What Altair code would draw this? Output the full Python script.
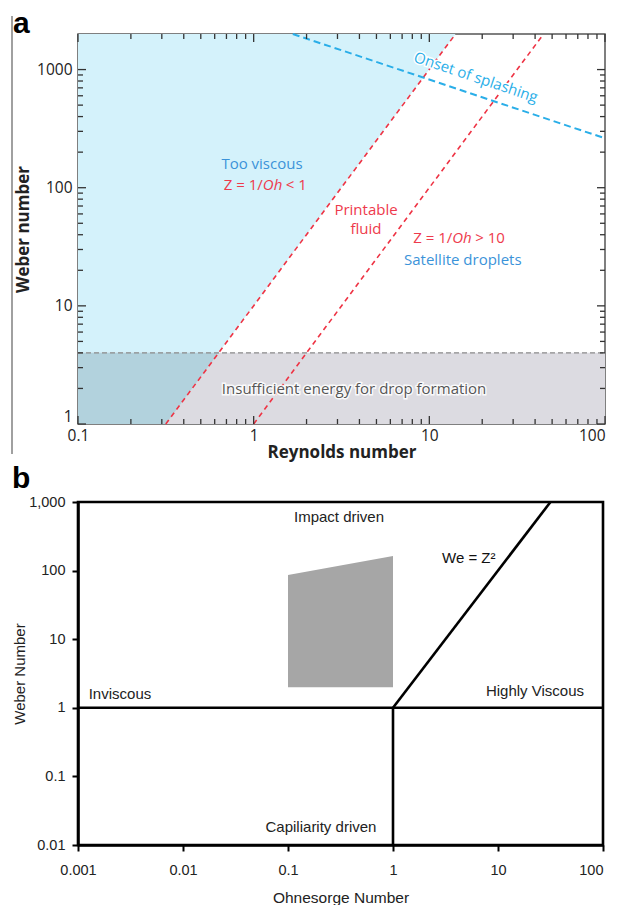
import altair as alt
import pandas as pd

# ---------------- panel a : Weber vs Reynolds ----------------
RE_MAJOR = [0.1, 1, 10, 100]
RE_MINOR = [0.2, 0.3, 0.4, 0.5, 0.6, 0.7, 0.8, 0.9,
            2, 3, 4, 5, 6, 7, 8, 9,
            20, 30, 40, 50, 60, 70, 80, 90]
WE_A_MAJOR = [1, 10, 100, 1000]
WE_A_MINOR = [2, 3, 4, 5, 6, 7, 8, 9,
              20, 30, 40, 50, 60, 70, 80, 90,
              200, 300, 400, 500, 600, 700, 800, 900]

VISCOUS_RE = [0.1, 0.316, 14.1]
VISCOUS_WE_LOW = [1, 1, 2000]
VISCOUS_WE_HIGH = [2000, 2000, 2000]
LOWE_RE = [0.1, 100]
LOWE_WE_LOW = [1, 1]
LOWE_WE_HIGH = [4, 4]
OVERLAP_RE = [0.1, 0.316, 0.632]
OVERLAP_WE_LOW = [1, 1, 4]
OVERLAP_WE_HIGH = [4, 4, 4]

THRESH_RE = [0.1, 100]
THRESH_WE = [4, 4]
Z1_RE = [0.316, 14.1]
Z1_WE = [1, 2000]
Z10_RE = [1.0, 44.7]
Z10_WE = [1, 2000]
SPLASH_RE = [1.67, 100]
SPLASH_WE = [2000, 262]

# annotation texts
A_TEXT = ["Too viscous", "Printable", "fluid", "Satellite droplets"]
A_TEXT_RE = [1.115, 4.36, 4.36, 15.5]
A_TEXT_WE = [160, 65.3, 45.1, 24.6]
A_TEXT_COL = ["#3b93d9", "#ee3a4c", "#ee3a4c", "#3b93d9"]
Z_RE = [1.128, 13.5]
Z_WE = [106, 37.8]
Z_PRE = ["Z = 1/", "Z = 1/"]
Z_MID = ["Oh", "Oh"]
Z_POST = ["< 1", "> 10"]
LOWE_TEXT = ["Insufficient energy for drop formation"]
LOWE_TEXT_RE = [3.73]
LOWE_TEXT_WE = [1.98]
SPLASH_TEXT = ["Onset of splashing"]
SPLASH_TEXT_RE = [18.4]
SPLASH_TEXT_WE = [860]

# ---------------- panel b : Weber vs Ohnesorge ----------------
OH_MAJOR = [0.001, 0.01, 0.1, 1, 10, 100]
WE_B_MAJOR = [0.01, 0.1, 1, 10, 100, 1000]
PRINT_OH = [0.1, 1]
PRINT_WE_LOW = [2, 2]
PRINT_WE_HIGH = [86, 163]
H_LINE_OH = [0.001, 100]
H_LINE_WE = [1, 1]
V_LINE_OH = [1, 1]
V_LINE_WE = [0.01, 1]
D_LINE_OH = [1, 31.6]
D_LINE_WE = [1, 1000]
B_TEXT = ["Impact driven", "Inviscous", "Highly Viscous", "Capiliarity driven"]
B_TEXT_OH = [0.306, 0.00251, 22.5, 0.206]
B_TEXT_WE = [604, 1.59, 1.76, 0.0183]
EQ_TEXT = ["We = Z\u00b2"]
EQ_OH = [2.93]
EQ_WE = [153]

W_A, H_A = 527, 390
W_B, H_B = 525, 343
FA = "Open Sans"
FB = "Liberation Sans"

last_right = {"condition": {"test": "datum.value >= 100", "value": "right"}, "value": "center"}
first_up = {"condition": {"test": "datum.value <= 1", "value": "bottom"}, "value": "middle"}

sx_a = alt.Scale(type="log", domain=[0.1, 100])
sy_a = alt.Scale(type="log", domain=[1, 2000])
ax_x_a = alt.Axis(values=RE_MAJOR, ticks=False, domain=False, grid=False, labelFlush=False,
                  labelAlign=last_right,
                  labelExpr="'' + datum.value", labelFont=FA, labelFontSize=15.5,
                  labelColor="#222", labelPadding=4, title="Reynolds number",
                  titleFont=FA, titleFontSize=17, titleFontWeight="bold",
                  titleColor="#222", titlePadding=1)
ax_y_a = alt.Axis(values=WE_A_MAJOR, ticks=False, domain=False, grid=False,
                  labelBaseline=first_up,
                  labelExpr="'' + datum.value", labelFont=FA, labelFontSize=15.5,
                  labelColor="#222", labelPadding=6, title="Weber number",
                  titleFont=FA, titleFontSize=17, titleFontWeight="bold",
                  titleColor="#222", titlePadding=4)


def XA(f):
    return alt.X(f, type="quantitative", scale=sx_a, axis=ax_x_a)


def YA(f):
    return alt.Y(f, type="quantitative", scale=sy_a, axis=ax_y_a)


viscous = alt.Chart(pd.DataFrame({"re": VISCOUS_RE, "lo": VISCOUS_WE_LOW, "hi": VISCOUS_WE_HIGH})).mark_area(
    color="#d4f2fb", opacity=1).encode(x=XA("re"), y=YA("lo"), y2=alt.Y2("hi"))
lowe = alt.Chart(pd.DataFrame({"re": LOWE_RE, "lo": LOWE_WE_LOW, "hi": LOWE_WE_HIGH})).mark_area(
    color="#dcdbe1", opacity=1).encode(x=XA("re"), y=YA("lo"), y2=alt.Y2("hi"))
overlap = alt.Chart(pd.DataFrame({"re": OVERLAP_RE, "lo": OVERLAP_WE_LOW, "hi": OVERLAP_WE_HIGH})).mark_area(
    color="#b2d2dd", opacity=1).encode(x=XA("re"), y=YA("lo"), y2=alt.Y2("hi"))

thresh = alt.Chart(pd.DataFrame({"re": THRESH_RE, "we": THRESH_WE})).mark_line(
    color="#8a8a8a", strokeWidth=1.3, strokeDash=[5, 3]).encode(x=XA("re"), y=YA("we"))
z1 = alt.Chart(pd.DataFrame({"re": Z1_RE, "we": Z1_WE})).mark_line(
    color="#ee3344", strokeWidth=1.6, strokeDash=[5, 4]).encode(x=XA("re"), y=YA("we"))
z10 = alt.Chart(pd.DataFrame({"re": Z10_RE, "we": Z10_WE})).mark_line(
    color="#ee3344", strokeWidth=1.6, strokeDash=[5, 4]).encode(x=XA("re"), y=YA("we"))
splash = alt.Chart(pd.DataFrame({"re": SPLASH_RE, "we": SPLASH_WE})).mark_line(
    color="#2aaee8", strokeWidth=2, strokeDash=[7, 4]).encode(x=XA("re"), y=YA("we"))

# ticks (inward on all four sides)
df_xmaj = pd.DataFrame({"v": RE_MAJOR})
df_xmin = pd.DataFrame({"v": RE_MINOR})
df_ymaj = pd.DataFrame({"v": WE_A_MAJOR})
df_ymin = pd.DataFrame({"v": WE_A_MINOR})
tc = dict(color="#333", strokeWidth=1.3)
ticks_a = [
    alt.Chart(df_xmaj).mark_rule(**tc).encode(x=XA("v"), y=alt.value(H_A), y2=alt.value(H_A - 8)),
    alt.Chart(df_xmin).mark_rule(**tc).encode(x=XA("v"), y=alt.value(H_A), y2=alt.value(H_A - 5)),
    alt.Chart(df_xmaj).mark_rule(**tc).encode(x=XA("v"), y=alt.value(0), y2=alt.value(8)),
    alt.Chart(df_xmin).mark_rule(**tc).encode(x=XA("v"), y=alt.value(0), y2=alt.value(5)),
    alt.Chart(df_ymaj).mark_rule(**tc).encode(y=YA("v"), x=alt.value(0), x2=alt.value(8)),
    alt.Chart(df_ymin).mark_rule(**tc).encode(y=YA("v"), x=alt.value(0), x2=alt.value(5)),
    alt.Chart(df_ymaj).mark_rule(**tc).encode(y=YA("v"), x=alt.value(W_A), x2=alt.value(W_A - 8)),
    alt.Chart(df_ymin).mark_rule(**tc).encode(y=YA("v"), x=alt.value(W_A), x2=alt.value(W_A - 5)),
]

FS_A = 15
txt_a = alt.Chart(pd.DataFrame({"t": A_TEXT, "re": A_TEXT_RE, "we": A_TEXT_WE, "c": A_TEXT_COL})).mark_text(
    font=FA, fontSize=FS_A).encode(x=XA("re"), y=YA("we"), text="t:N", color=alt.Color("c:N", scale=None))
df_z = pd.DataFrame({"re": Z_RE, "we": Z_WE, "a": Z_PRE, "b": Z_MID, "c": Z_POST})
z_pre = alt.Chart(df_z).mark_text(font=FA, fontSize=FS_A, color="#ee3a4c", align="right").encode(
    x=XA("re"), y=YA("we"), text="a:N")
z_mid = alt.Chart(df_z).mark_text(font=FA, fontSize=FS_A, color="#ee3a4c", align="left", fontStyle="italic").encode(
    x=XA("re"), y=YA("we"), text="b:N")
z_post = alt.Chart(df_z).mark_text(font=FA, fontSize=FS_A, color="#ee3a4c", align="left", dx=23).encode(
    x=XA("re"), y=YA("we"), text="c:N")
df_lt = pd.DataFrame({"t": LOWE_TEXT, "re": LOWE_TEXT_RE, "we": LOWE_TEXT_WE})
lowe_halo = alt.Chart(df_lt).mark_text(font=FA, fontSize=FS_A, color="white", stroke="white",
                                       strokeWidth=3, strokeOpacity=0.85).encode(x=XA("re"), y=YA("we"), text="t:N")
lowe_txt = alt.Chart(df_lt).mark_text(font=FA, fontSize=FS_A, color="#555").encode(
    x=XA("re"), y=YA("we"), text="t:N")
df_st = pd.DataFrame({"t": SPLASH_TEXT, "re": SPLASH_TEXT_RE, "we": SPLASH_TEXT_WE})
splash_halo = alt.Chart(df_st).mark_text(font=FA, fontSize=15, color="white", stroke="white", strokeWidth=3,
                                         angle=18.6).encode(x=XA("re"), y=YA("we"), text="t:N")
splash_txt = alt.Chart(df_st).mark_text(font=FA, fontSize=15, color="#28aee8", angle=18.6).encode(
    x=XA("re"), y=YA("we"), text="t:N")

artifact = alt.Chart(pd.DataFrame({"v": [1]})).mark_rule(color="#808080", strokeWidth=1.5).encode(
    x=alt.value(-66), y=alt.value(-18), y2=alt.value(30 + H_A))

panel_a = alt.layer(
    viscous, lowe, overlap, thresh, z1, z10, splash, *ticks_a,
    txt_a, z_pre, z_mid, z_post, lowe_halo, lowe_txt, splash_halo, splash_txt, artifact
).properties(
    width=W_A, height=H_A,
    title=alt.TitleParams("a", anchor="start", frame="group", dx=-65, offset=-24, fontSize=30,
                          font=FB, fontWeight="bold", color="black"),
    view=alt.ViewBackground(stroke="#555", strokeWidth=1.5),
)

# ---------------- panel b ----------------
sx_b = alt.Scale(type="log", domain=[0.001, 100])
sy_b = alt.Scale(type="log", domain=[0.01, 1000])
ax_x_b = alt.Axis(values=OH_MAJOR, grid=False, labelFlush=False, labelAlign=last_right,
                  labelExpr="format(datum.value, ',')", labelFont=FB,
                  labelFontSize=14.5, labelColor="#222", labelPadding=12, tickSize=6, tickWidth=2,
                  tickColor="black", domainColor="black", domainWidth=2.5, title="Ohnesorge Number",
                  titleFont=FB, titleFontSize=15.5, titleFontWeight="normal", titleColor="#222", titlePadding=14)
ax_y_b = alt.Axis(values=WE_B_MAJOR, grid=False, labelExpr="format(datum.value, ',')", labelFont=FB,
                  labelFontSize=14.5, labelColor="#222", labelPadding=7, tickSize=6, tickWidth=2,
                  tickColor="black", domainColor="black", domainWidth=2.5, title="Weber Number",
                  titleFont=FB, titleFontSize=15, titleFontWeight="normal", titleColor="#222", titlePadding=1)


def XB(f):
    return alt.X(f, type="quantitative", scale=sx_b, axis=ax_x_b)


def YB(f):
    return alt.Y(f, type="quantitative", scale=sy_b, axis=ax_y_b)


printable = alt.Chart(pd.DataFrame({"oh": PRINT_OH, "lo": PRINT_WE_LOW, "hi": PRINT_WE_HIGH})).mark_area(
    color="#a6a6a6", opacity=1).encode(x=XB("oh"), y=YB("lo"), y2=alt.Y2("hi"))
lb = dict(color="black", strokeWidth=2.6)
hline = alt.Chart(pd.DataFrame({"oh": H_LINE_OH, "we": H_LINE_WE})).mark_line(**lb).encode(x=XB("oh"), y=YB("we"))
vline = alt.Chart(pd.DataFrame({"oh": V_LINE_OH, "we": V_LINE_WE})).mark_line(**lb).encode(x=XB("oh"), y=YB("we"))
dline = alt.Chart(pd.DataFrame({"oh": D_LINE_OH, "we": D_LINE_WE})).mark_line(**lb).encode(x=XB("oh"), y=YB("we"))
txt_b = alt.Chart(pd.DataFrame({"t": B_TEXT, "oh": B_TEXT_OH, "we": B_TEXT_WE})).mark_text(
    font=FB, fontSize=15, color="#222").encode(x=XB("oh"), y=YB("we"), text="t:N")
eq_b = alt.Chart(pd.DataFrame({"t": EQ_TEXT, "oh": EQ_OH, "we": EQ_WE})).mark_text(
    font=FB, fontSize=15, color="#111", align="left").encode(x=XB("oh"), y=YB("we"), text="t:N")

panel_b = alt.layer(printable, hline, vline, dline, txt_b, eq_b).properties(
    width=W_B, height=H_B,
    title=alt.TitleParams("b", anchor="start", frame="group", dx=-66, offset=0, fontSize=30,
                          font=FB, fontWeight="bold", color="black"),
    view=alt.ViewBackground(stroke="black", strokeWidth=2.6),
)

chart = alt.vconcat(panel_a, panel_b, spacing=0).properties(
    padding={"left": 2, "top": 0, "right": 0, "bottom": 0}
).configure_view(strokeWidth=0).configure(background="white")

chart.save("out.html", embed_options={"renderer": "svg", "actions": False})
